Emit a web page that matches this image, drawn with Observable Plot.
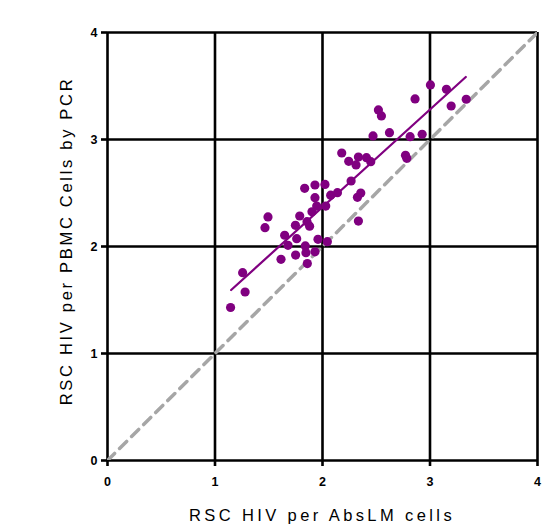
<!DOCTYPE html>
<html><head><meta charset="utf-8">
<script src="https://cdn.jsdelivr.net/npm/d3@7"></script>
<script src="https://cdn.jsdelivr.net/npm/@observablehq/plot@0.6"></script>
<style>body{margin:0;background:#fff}</style>
</head><body><div id="chart"></div>
<script>
const absLM = [1.145,1.28,1.257,1.614,1.465,1.493,1.648,1.679,1.75,1.76,1.748,1.788,1.856,1.88,1.84,1.846,1.859,1.93,1.958,2.045,1.902,1.946,2.03,1.93,1.834,1.93,2.023,2.076,2.139,2.266,2.325,2.356,2.334,2.179,2.244,2.312,2.334,2.409,2.449,2.47,2.52,2.548,2.623,2.772,2.784,2.815,2.927,2.861,3.004,3.153,3.197,3.337];
const pbmc = [1.43,1.575,1.755,1.88,2.176,2.276,2.105,2.011,1.92,2.073,2.198,2.285,2.232,2.19,2.005,1.942,1.84,1.95,2.067,2.045,2.325,2.378,2.378,2.456,2.544,2.575,2.58,2.48,2.503,2.612,2.46,2.5,2.238,2.874,2.796,2.762,2.836,2.83,2.793,3.033,3.276,3.22,3.064,2.852,2.824,3.026,3.049,3.379,3.51,3.469,3.313,3.376];
const fitX = [1.15, 3.333];
const fitY = [1.593, 3.584];
const idX = [0, 4];
const idY = [0, 4];
const ticks = [0,1,2,3,4];

const pts = absLM.map((x,i)=>({x, y: pbmc[i]}));
const fit = fitX.map((x,i)=>({x, y: fitY[i]}));
const ident = idX.map((x,i)=>({x, y: idY[i]}));

const chart = Plot.plot({
  width: 553, height: 526,
  marginLeft: 107, marginRight: 16, marginTop: 32, marginBottom: 66,
  style: {fontFamily: "'Liberation Sans', Arial, sans-serif", background: "#fff"},
  x: {domain: [0,4], ticks},
  y: {domain: [0,4], ticks},
  marks: [
    Plot.gridX(ticks, {stroke: "#000", strokeOpacity: 1, strokeWidth: 2.6}),
    Plot.gridY(ticks, {stroke: "#000", strokeOpacity: 1, strokeWidth: 2.6}),
    Plot.axisX({ticks, tickFormat: "d", tickSize: 6, tickPadding: 11, stroke: "#000", strokeWidth: 2.6, fontSize: 12.5, fontWeight: "bold", label: null}),
    Plot.axisY({ticks, tickFormat: "d", tickSize: 6, tickPadding: 4, stroke: "#000", strokeWidth: 2.6, fontSize: 12.5, fontWeight: "bold", label: null}),
    Plot.line(ident, {x: "x", y: "y", stroke: "#a6a6a6", strokeWidth: 3.5, strokeDasharray: "10,7", clip: true}),
    Plot.dot(pts, {x: "x", y: "y", r: 4.6, fill: "#800080", stroke: "none"}),
    Plot.line(fit, {x: "x", y: "y", stroke: "#800080", strokeWidth: 2.2})
  ]
});
const svg = d3.select(chart);
svg.append("text").attr("x", 322).attr("y", 521).attr("text-anchor","middle")
  .attr("font-size", 16.5).attr("letter-spacing", "3.4px").attr("fill","#000")
  .text("RSC HIV per AbsLM cells");
svg.append("text").attr("transform","translate(72,241) rotate(-90)").attr("text-anchor","middle")
  .attr("font-size", 16.5).attr("letter-spacing", "2.7px").attr("fill","#000")
  .text("RSC HIV per PBMC Cells by PCR");
document.getElementById("chart").append(chart);
</script></body></html>
